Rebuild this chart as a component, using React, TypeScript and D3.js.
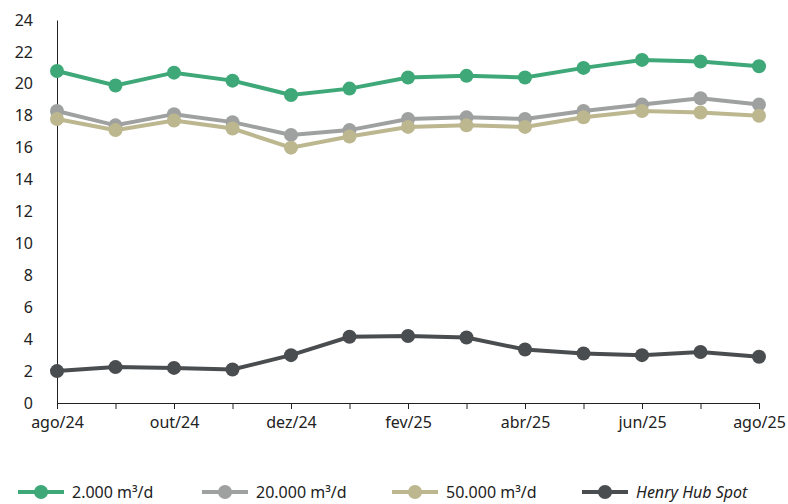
import React, { useRef, useEffect } from "react";
import * as d3 from "d3";

const months = ["ago/24","set/24","out/24","nov/24","dez/24","jan/25","fev/25","mar/25","abr/25","mai/25","jun/25","jul/25","ago/25"];
const tickLabels = ["ago/24","out/24","dez/24","fev/25","abr/25","jun/25","ago/25"];
const s2000 = [20.8,19.9,20.7,20.2,19.3,19.7,20.4,20.5,20.4,21.0,21.5,21.4,21.1];
const s20000 = [18.3,17.4,18.1,17.6,16.8,17.1,17.8,17.9,17.8,18.3,18.7,19.1,18.7];
const s50000 = [17.8,17.1,17.7,17.2,16.0,16.7,17.3,17.4,17.3,17.9,18.3,18.2,18.0];
const henry = [2.0,2.25,2.2,2.1,3.0,4.15,4.2,4.1,3.35,3.1,3.0,3.2,2.9];

const series = [
  { name: "2.000 m³/d", values: s2000, color: "#3fa878", italic: false },
  { name: "20.000 m³/d", values: s20000, color: "#9fa0a0", italic: false },
  { name: "50.000 m³/d", values: s50000, color: "#bcb78f", italic: false },
  { name: "Henry Hub Spot", values: henry, color: "#4a4d4f", italic: true },
];

export default function App() {
  const ref = useRef<SVGSVGElement>(null);
  useEffect(() => {
    const svg = d3.select(ref.current);
    svg.selectAll("*").remove();
    const font = "'Liberation Sans Narrow', 'Noto Sans', sans-serif";
    const x = d3.scalePoint().domain(months).range([57, 759]);
    const y = d3.scaleLinear().domain([0, 24]).range([403, 20]);

    const yAxis = svg.append("g").attr("transform", "translate(57,0)")
      .call(d3.axisLeft(y).tickValues(d3.range(0, 25, 2)).tickSize(0).tickPadding(24));
    yAxis.select(".domain").attr("stroke", "#222");
    yAxis.selectAll("text").attr("font-size", 16).attr("font-family", font).attr("fill", "#222");

    const xAxis = svg.append("g").attr("transform", "translate(0,403)")
      .call(d3.axisBottom(x).tickValues(months).tickSize(6).tickFormat((d) => tickLabels.includes(d as string) ? (d as string) : ""));
    xAxis.select(".domain").attr("stroke", "#222");
    xAxis.selectAll("line").attr("stroke", "#222");
    xAxis.selectAll("text").attr("font-size", 16).attr("font-family", font).attr("fill", "#222").attr("dy", "1em");

    const line = d3.line<number>().x((_, i) => x(months[i])!).y((d) => y(d));
    series.forEach((s) => {
      svg.append("path").attr("d", line(s.values)).attr("fill", "none")
        .attr("stroke", s.color).attr("stroke-width", 4);
      svg.selectAll(null).data(s.values).enter().append("circle")
        .attr("cx", (_, i) => x(months[i])!).attr("cy", (d) => y(d)).attr("r", 7).attr("fill", s.color);
    });

    const legendX = [18, 202, 392, 582];
    series.forEach((s, i) => {
      const g = svg.append("g").attr("transform", `translate(${legendX[i]},492)`);
      g.append("line").attr("x1", 0).attr("x2", 46).attr("stroke", s.color).attr("stroke-width", 4);
      g.append("circle").attr("cx", 23).attr("r", 7).attr("fill", s.color);
      g.append("text").attr("x", 54).attr("dy", "0.35em").attr("font-size", 16)
        .attr("font-family", font).attr("fill", "#222")
        .attr("font-style", s.italic ? "italic" : "normal").text(s.name);
    });
  }, []);
  return <svg ref={ref} width={788} height={504} style={{ position: "absolute", left: 0, top: 0 }} />;
}
